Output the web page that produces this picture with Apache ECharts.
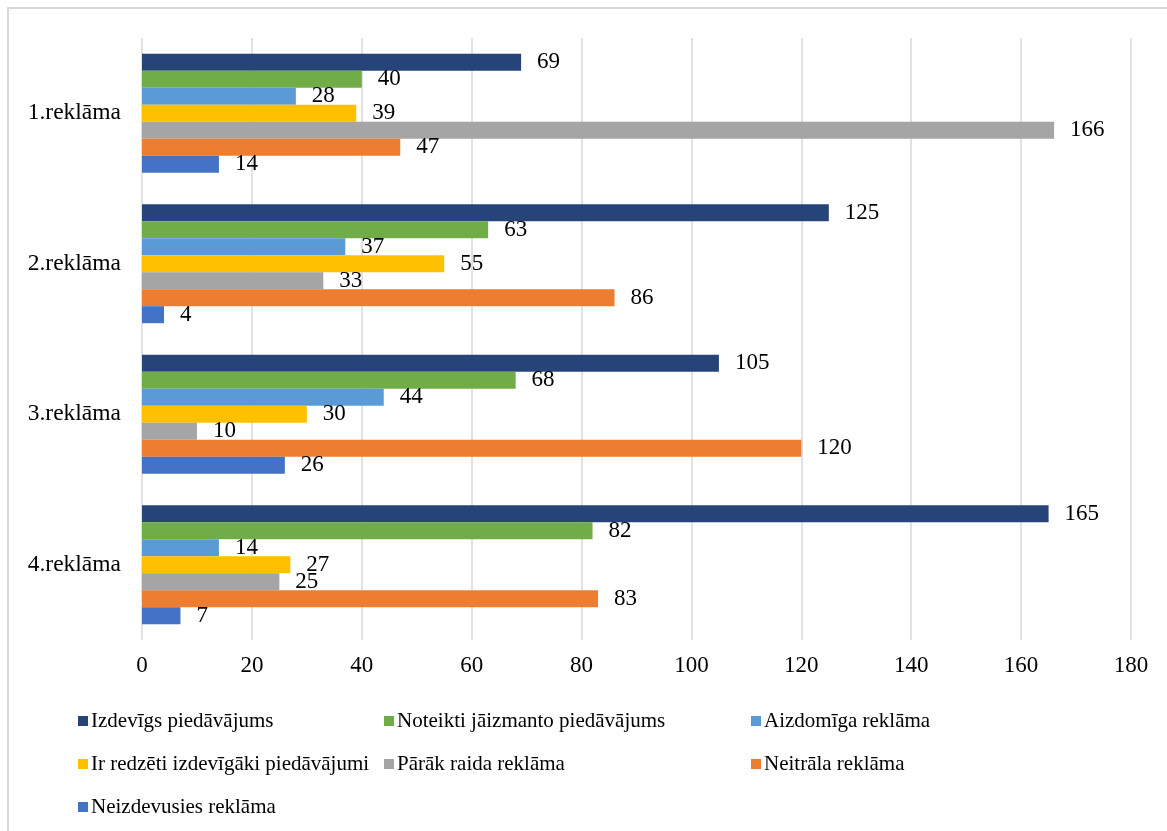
<!DOCTYPE html>
<html>
<head>
<meta charset="utf-8">
<script src="https://cdn.jsdelivr.net/npm/echarts@6/dist/echarts.min.js"></script>
<style>
  html, body { margin: 0; padding: 0; background: #fff; }
  #chart { width: 1167px; height: 831px; }
</style>
</head>
<body>
<div id="chart"></div>
<script>
// Ad categories (top to bottom)
const categories = ['1.reklāma', '2.reklāma', '3.reklāma', '4.reklāma'];

// Response series
const seriesNames = [
  'Izdevīgs piedāvājums',
  'Noteikti jāizmanto piedāvājums',
  'Aizdomīga reklāma',
  'Ir redzēti izdevīgāki piedāvājumi',
  'Pārāk raida reklāma',
  'Neitrāla reklāma',
  'Neizdevusies reklāma'
];

const izdevigs      = [69, 125, 105, 165];
const noteikti      = [40, 63, 68, 82];
const aizdomiga     = [28, 37, 44, 14];
const redzeti       = [39, 55, 30, 27];
const paraksRaida   = [166, 33, 10, 25];
const neitrala      = [47, 86, 120, 83];
const neizdevusies  = [14, 4, 26, 7];

const seriesValues = [izdevigs, noteikti, aizdomiga, redzeti, paraksRaida, neitrala, neizdevusies];

const xTicks = { min: 0, max: 180, interval: 20 };

const colors = ['#264478', '#70AD47', '#5B9BD5', '#FFC000', '#A5A5A5', '#ED7D31', '#4472C4'];

const font = 'Liberation Serif, Times New Roman, serif';
const chart = echarts.init(document.getElementById('chart'));

function legendColumn(names, left) {
  return {
    orient: 'vertical',
    left: left,
    top: 710,
    padding: 0,
    icon: 'rect',
    itemWidth: 10,
    itemHeight: 10,
    itemGap: 21,
    data: names,
    selectedMode: false,
    textStyle: { fontFamily: font, fontSize: 21, color: '#000', lineHeight: 22, padding: [0, 0, 0, -2] }
  };
}

chart.setOption({
  animation: false,
  color: colors,
  graphic: [{
    type: 'rect',
    shape: { x: 8, y: 8, width: 1300, height: 1000 },
    style: { fill: 'none', stroke: '#D9D9D9', lineWidth: 2 },
    silent: true
  }],
  grid: { left: 142, right: 36, top: 38, bottom: 191, containLabel: false },
  legend: [
    legendColumn([seriesNames[0], seriesNames[3], seriesNames[6]], 78),
    legendColumn([seriesNames[1], seriesNames[4]], 384),
    legendColumn([seriesNames[2], seriesNames[5]], 751)
  ],
  xAxis: {
    type: 'value',
    min: xTicks.min,
    max: xTicks.max,
    interval: xTicks.interval,
    axisLine: { show: false },
    axisTick: { show: false },
    axisLabel: { fontFamily: font, fontSize: 23, color: '#000', margin: 14 },
    splitLine: { show: true, lineStyle: { color: '#D9D9D9', width: 1.5 } }
  },
  yAxis: {
    type: 'category',
    data: categories,
    inverse: true,
    axisLine: { show: false },
    axisTick: { show: false },
    axisLabel: { fontFamily: font, fontSize: 23.5, color: '#000', margin: 21, padding: [4, 0, 0, 0] }
  },
  series: seriesNames.map((name, i) => ({
    name: name,
    type: 'bar',
    data: seriesValues[i],
    barGap: '0%',
    barCategoryGap: '21%',
    itemStyle: { color: colors[i] },
    label: {
      show: true,
      position: 'right',
      distance: 16,
      fontFamily: font,
      fontSize: 23,
      color: '#000',
      padding: [3, 0, 0, 0]
    }
  }))
});
</script>
</body>
</html>
